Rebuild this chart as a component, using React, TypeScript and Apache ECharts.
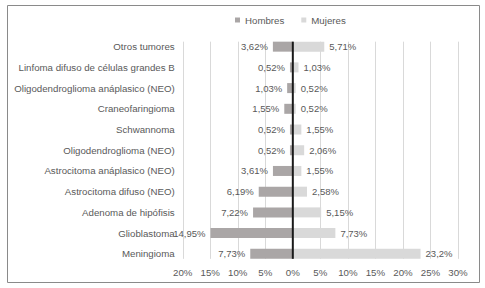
import React, { useEffect, useRef } from "react";
import * as echarts from "echarts";

const categories = [
  "Otros tumores",
  "Linfoma difuso de células grandes B",
  "Oligodendroglioma anáplasico (NEO)",
  "Craneofaringioma",
  "Schwannoma",
  "Oligodendroglioma (NEO)",
  "Astrocitoma anáplasico (NEO)",
  "Astrocitoma difuso (NEO)",
  "Adenoma de hipófisis",
  "Glioblastoma",
  "Meningioma",
];
const hombres = [3.62, 0.52, 1.03, 1.55, 0.52, 0.52, 3.61, 6.19, 7.22, 14.95, 7.73];
const mujeres = [5.71, 1.03, 0.52, 0.52, 1.55, 2.06, 1.55, 2.58, 5.15, 7.73, 23.2];
const xTicks = [-20, -15, -10, -5, 0, 5, 10, 15, 20, 25, 30];

const FONT = '"Liberation Sans", Arial, sans-serif';
const TXT = "#595959";
const BAR_W = 10;

const fmt = (v: number) => String(Math.abs(v)).replace(".", ",") + "%";

export default function App() {
  const ref = useRef<HTMLDivElement>(null);
  useEffect(() => {
    if (!ref.current) return;
    const chart = echarts.init(ref.current, null, { renderer: "svg" });
    chart.setOption({
      animation: false,
      textStyle: { fontFamily: FONT },
      legend: {
        left: 235,
        top: 15,
        padding: 0,
        itemWidth: 5,
        itemHeight: 5,
        itemGap: 17,
        icon: "rect",
        textStyle: { color: TXT, fontSize: 9.7, fontFamily: FONT },
      },
      grid: { left: 182.7, right: 27, top: 36.3, bottom: 23.8 },
      xAxis: {
        type: "value",
        min: -20,
        max: 30,
        interval: 5,
        axisLine: { show: false },
        axisTick: { show: false },
        splitLine: { show: false },
        axisLabel: {
          formatter: (v: number) => Math.abs(v) + "%",
          color: TXT,
          fontSize: 9.7,
          fontFamily: FONT,
          margin: 3,
        },
      },
      yAxis: {
        type: "category",
        inverse: true,
        data: categories,
        axisLine: { show: false },
        axisTick: { show: false },
        axisLabel: { color: TXT, fontSize: 9.7, fontFamily: FONT, margin: 8 },
      },
      series: [
        {
          name: "Hombres",
          type: "bar",
          stack: "t",
          barWidth: BAR_W,
          data: hombres.map((v) => -v),
          itemStyle: { color: "#aaa6a6" },
          label: {
            show: true,
            position: "left",
            distance: 5,
            color: TXT,
            fontSize: 9.5,
            fontFamily: FONT,
            formatter: (p: any) => fmt(p.value),
          },
        },
        {
          name: "Mujeres",
          type: "bar",
          stack: "t",
          barWidth: BAR_W,
          data: mujeres,
          itemStyle: { color: "#d9d9d9" },
          label: {
            show: true,
            position: "right",
            distance: 5,
            color: TXT,
            fontSize: 9.5,
            fontFamily: FONT,
            formatter: (p: any) => fmt(p.value),
          },
        },
      ],
    });

    const yTop = (chart.convertToPixel({ yAxisIndex: 0 }, categories[0]) as number) - BAR_W / 2;
    const yBot =
      (chart.convertToPixel({ yAxisIndex: 0 }, categories[categories.length - 1]) as number) + BAR_W / 2;
    const lines: any[] = xTicks
      .filter((t) => t !== 0)
      .map((t) => {
        const x = Math.round(chart.convertToPixel({ xAxisIndex: 0 }, t) as number) + 0.5;
        return {
          type: "line",
          z: 0,
          shape: { x1: x, y1: yTop, x2: x, y2: yBot },
          style: { stroke: "#d9d9d9", lineWidth: 1 },
        };
      });
    const x0 = chart.convertToPixel({ xAxisIndex: 0 }, 0) as number;
    lines.push({
      type: "line",
      z: 10,
      shape: { x1: x0, y1: yTop, x2: x0, y2: yBot },
      style: { stroke: "#1a1a1a", lineWidth: 2 },
    });
    lines.push({
      type: "rect",
      z: 10,
      shape: { x: 7.5, y: 5.5, width: 472, height: 277 },
      style: { fill: "none", stroke: "#8a8a8a", lineWidth: 1 },
    });
    chart.setOption({ graphic: lines });

    return () => chart.dispose();
  }, []);
  return (
    <div
      ref={ref}
      style={{ position: "absolute", left: 0, top: 0, width: 485, height: 288, background: "#fff" }}
    />
  );
}
